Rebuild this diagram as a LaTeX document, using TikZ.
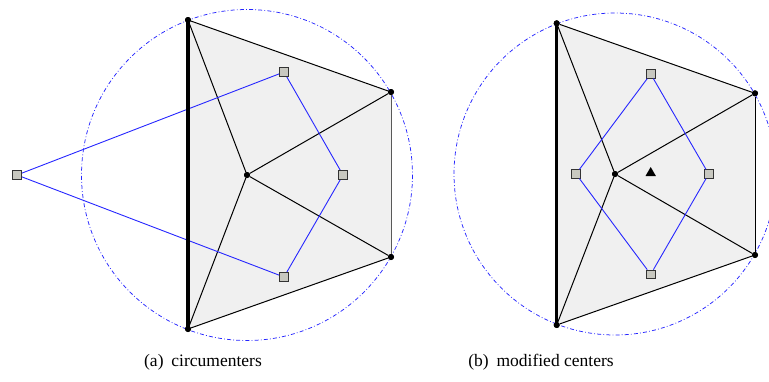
\documentclass[tikz,border=0pt]{standalone}
\usepackage{fontspec}
\setmainfont{Liberation Serif}
\usetikzlibrary{shapes.geometric}
\begin{document}
\begin{tikzpicture}[x=1pt,y=-1pt,
  vtx/.style={circle,fill=black,inner sep=0pt,minimum size=6pt},
  ctr/.style={rectangle,draw=black!80,fill={rgb,255:red,200;green,200;blue,192},line width=0.8pt,inner sep=0pt,minimum size=8.5pt},
  edge/.style={black,line width=1pt},
  vor/.style={blue!85!white,line width=0.9pt},
  circ/.style={blue!85!white,line width=0.75pt,dash pattern=on 4pt off 2.2pt on 0.8pt off 2.2pt},
  captext/.style={font=\fontsize{17.5}{21}\selectfont,inner sep=0pt},
  thickedge/.style={black,line width=3.2pt},
  tri/.style={regular polygon,regular polygon sides=3,fill=black,inner sep=0pt,minimum size=12pt}
]
\useasboundingbox (0,0) rectangle (769,381);
% ---------- panel (a) ----------
\fill[black!6] (188,20) -- (391,92) -- (391,257) -- (188,329) -- cycle;
\node[vtx] (a1) at (188,20) {};
\node[vtx] (a2) at (188,329) {};
\node[vtx] (a3) at (391,92) {};
\node[vtx] (a4) at (391,257) {};
\node[vtx] (ae) at (247,175) {};
\draw[circ] (ae) circle (165.5);
\draw[edge] (a1) -- (a3);
\draw[edge,black!65] (a3) -- (a4);
\draw[edge] (a4) -- (a2);
\draw[edge] (a1) -- (ae);
\draw[edge] (a3) -- (ae);
\draw[edge] (a4) -- (ae);
\draw[edge] (a2) -- (ae);
\node[ctr] (c1) at (284,72) {};
\node[ctr] (c2) at (343,175) {};
\node[ctr] (c3) at (284,277) {};
\node[ctr] (c4) at (17,175) {};
\draw[vor] (c4) -- (c1) -- (c2) -- (c3) -- (c4);
\draw[thickedge] (a1.center) -- (a2.center);
\node[vtx] at (a1) {};
\node[vtx] at (a2) {};
\node[vtx] at (a3) {};
\node[vtx] at (a4) {};
\node[vtx] at (ae) {};
\node[ctr] at (c1) {};
\node[ctr] at (c2) {};
\node[ctr] at (c3) {};
\node[ctr] at (c4) {};
\node[captext] (capa) at (203,362) {(a)\hspace{0.45em}circumenters};
% ---------- panel (b) ----------
\fill[black!6] (556.7,23.3) -- (755,93.3) -- (755,255) -- (556.7,325) -- cycle;
\node[vtx] (b1) at (556.7,23.3) {};
\node[vtx] (b2) at (556.7,325) {};
\node[vtx] (b3) at (755,93.3) {};
\node[vtx] (b4) at (755,255) {};
\node[vtx] (be) at (615,174) {};
\draw[circ] (be) circle (161);
\draw[edge] (b1) -- (b3);
\draw[edge] (b3) -- (b4);
\draw[edge] (b4) -- (b2);
\draw[edge] (b1) -- (be);
\draw[edge] (b3) -- (be);
\draw[edge] (b4) -- (be);
\draw[edge] (b2) -- (be);
\node[ctr] (d1) at (650.7,74) {};
\node[ctr] (d2) at (708.7,174) {};
\node[ctr] (d3) at (650.7,274.3) {};
\node[ctr] (d4) at (576,174) {};
\draw[vor] (d1) -- (d2) -- (d3) -- (d4) -- (d1);
\node[tri] (bt) at (650.7,173) {};
\draw[thickedge] (b1.center) -- (b2.center);
\node[vtx] at (b1) {};
\node[vtx] at (b2) {};
\node[vtx] at (b3) {};
\node[vtx] at (b4) {};
\node[vtx] at (be) {};
\node[captext] (capb) at (541,362) {(b)\hspace{0.45em}modified centers};
\end{tikzpicture}
\end{document}
